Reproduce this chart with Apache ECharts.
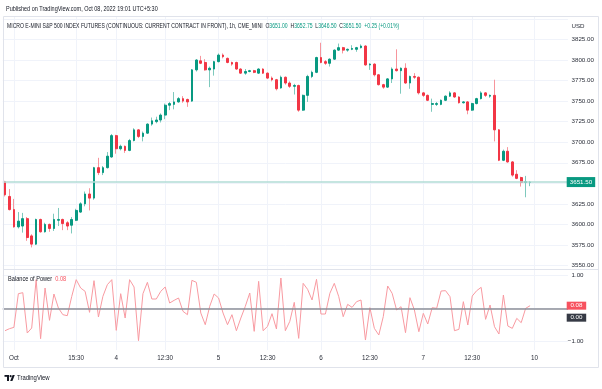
<!DOCTYPE html>
<html><head><meta charset="utf-8">
<script src="https://cdn.jsdelivr.net/npm/echarts@6/dist/echarts.min.js"></script>
<style>html,body{margin:0;padding:0;background:#fff}#c{width:602px;height:389px}</style>
</head><body><div id="c"></div>
<script>
// ---- data (hourly bars, Micro E-mini S&P 500, IST) ----
const opens = [
3652,3634,3618,3597,3598,3607,3586,3576,3606,3591,
3600,3595,3605,3606,3602,3599,3605,3615,3625,3637,
3632,3669,3663,3669,3682,3708,3692,3695,3690,3702,
3715,3707,3711,3722,3725,3727,3733,3745,3746,3749,
3753,3752,3750,3788,3799,3797,3788,3789,3798,3806,
3802,3797,3797,3789,3784,3786,3787,3784,3789,3784,
3778,3776,3766,3779,3772,3768,3769,3739,3757,3780,
3785,3803,3798,3796,3801,3812,3815,3812,3813,3813,
3815,3817,3794,3795,3782,3770,3767,3777,3789,3787,
3790,3772,3780,3779,3760,3757,3746,3746,3746,3751,
3756,3760,3755,3748,3749,3739,3747,3753,3760,3756,
3757,3715,3678,3689,3676,3661,3657,3651,3651];
const highs = [
3653,3643,3631,3615,3614,3609,3588,3607,3607,3602,
3601,3613,3620,3607,3604,3609,3619,3627,3640,3644,
3670,3681,3671,3688,3710,3709,3697,3696,3704,3717,
3716,3713,3723,3730,3731,3735,3747,3749,3761,3755,
3756,3753,3789,3801,3805,3801,3792,3799,3808,3808,
3803,3798,3798,3790,3789,3788,3788,3790,3790,3785,
3780,3777,3781,3780,3774,3771,3770,3758,3782,3787,
3804,3821,3800,3802,3813,3820,3816,3814,3818,3816,
3819,3818,3796,3796,3783,3771,3778,3791,3813,3791,
3796,3781,3784,3780,3761,3758,3753,3749,3752,3757,
3762,3761,3756,3750,3750,3748,3754,3762,3761,3758,
3776,3716,3691,3694,3677,3666,3658,3659,3652.75];
const lows = [
3634,3617,3596,3595,3590,3580,3572,3575,3590,3590,
3591,3592,3598,3593,3593,3589,3604,3614,3622,3617,
3630,3660,3660,3668,3681,3686,3690,3687,3689,3701,
3705,3701,3710,3720,3723,3724,3728,3739,3740,3748,
3748,3743,3749,3786,3795,3787,3767,3781,3797,3802,
3796,3793,3788,3783,3782,3785,3784,3783,3783,3777,
3774,3763,3765,3770,3766,3758,3737,3738,3749,3778,
3784,3796,3794,3792,3800,3811,3808,3810,3812,3810,
3814,3793,3788,3780,3769,3765,3766,3772,3786,3759,
3771,3765,3777,3758,3755,3750,3737,3744,3745,3750,
3755,3754,3747,3747,3734,3738,3746,3752,3755,3754,
3701,3677,3677,3675,3658,3655,3646,3633,3646.5];
const closes = [
3636,3618,3597,3604,3607,3584,3576,3606,3591,3600,
3595,3606,3606,3601,3598,3606,3617,3625,3637,3632,
3669,3663,3669,3683,3708,3692,3695,3690,3702,3715,
3707,3711,3722,3726,3727,3733,3745,3747,3749,3753,
3750,3749,3788,3800,3796,3788,3790,3798,3806,3804,
3797,3795,3789,3784,3786,3787,3785,3789,3784,3778,
3776,3765,3779,3772,3768,3769,3739,3757,3780,3785,
3803,3797,3796,3801,3812,3815,3812,3813,3814,3815,
3817,3794,3795,3782,3770,3767,3777,3789,3787,3790,
3772,3780,3779,3760,3757,3751,3747,3747,3751,3756,
3760,3755,3748,3749,3739,3747,3753,3760,3757,3757,
3715,3678,3689,3676,3660,3656,3651,3652,3651.5];
const bop = [
-0.67,-0.61,-0.57,0.44,0.47,-0.74,-0.59,0.86,-0.91,0.61,
-0.36,0.43,0.01,-0.19,-0.22,0.36,0.86,0.61,0.51,-0.12,
0.83,-0.26,0.36,0.71,0.86,-0.66,0.44,-0.29,0.86,0.64,
-0.97,0.44,0.78,0.28,0.28,0.51,0.64,0.16,0.24,0.31,
-0.09,-0.19,0.84,0.78,-0.14,-0.49,0.06,0.43,0.31,-0.14,
-0.49,-0.19,-0.67,-0.29,0.06,0.46,-0.69,0.81,-0.67,-0.54,
-0.16,-0.62,0.91,-0.67,-0.39,0.18,-0.9,0.75,0.57,0.25,
0.87,-0.17,-0.17,0.45,0.75,0.35,-0.25,0.12,0.03,0.2,
0.25,-0.95,0.02,-0.6,-0.8,-0.25,0.67,0.45,-0.05,0.05,
-0.73,0.32,-0.05,-0.7,-0.15,-0.47,0.02,0,0.52,0.53,
0.35,-0.67,-0.63,0.2,-0.5,0.37,0.53,0.63,-0.33,0.1,
-0.55,-0.77,0.4,-0.53,-0.6,-0.3,-0.43,0,0.08];
// time-axis tick labels keyed by bar slot
const tickLabels = {2:'Oct',16:'15:30',25:'4',36:'12:30',48:'5',59:'12:30',71:'6',82:'12:30',94:'7',105:'12:30',119:'10'};
const futureSlots = 8;
const categories = Array.from({length: opens.length + futureSlots}, (_, i) => String(i));
const titleText = 'MICRO E-MINI S&P 500 INDEX FUTURES (CONTINUOUS: CURRENT CONTRACT IN FRONT), 1h, CME_MINI';
const changeText = '+0.25 (+0.01%)';
const publishedText = 'Published on TradingView.com, Oct 08, 2022 19:01 UTC+5:30';

// ---- style ----
const UP = '#089981', DOWN = '#f23645', WUP = '#7ec9bd', WDOWN = '#f7959c';
const FONT = 'Liberation Sans, Arial, sans-serif';
const TXT = '#2a2e39', DARK = '#131722', GRID = '#f0f3fa';
const bandW = 4.45, gLeft = 2.775, gWidth = bandW * categories.length;

const last = opens.length - 1;
const lastClose = closes[last], lastBop = bop[last];
const fullData = opens.map((o, i) => [o, closes[i], lows[i], highs[i]]);
const bodyData = opens.map((o, i) => [o, closes[i], Math.min(o, closes[i]), Math.max(o, closes[i])]);

const chart = echarts.init(document.getElementById('c'), null, {renderer: 'canvas', width: 602, height: 389});
const hiddenX = (g) => ({type: 'category', gridIndex: g, data: categories, boundaryGap: true, show: false});
chart.setOption({
  animation: false,
  backgroundColor: '#ffffff',
  textStyle: {fontFamily: FONT},
  grid: [
    {left: gLeft, width: gWidth, top: 18.9, height: 246.6},
    {left: gLeft, width: gWidth, top: 275, height: 66.7},
    {left: gLeft, width: gWidth, top: 17, height: 333}
  ],
  xAxis: [
    hiddenX(0), hiddenX(1),
    {type: 'category', gridIndex: 2, data: categories, boundaryGap: true,
     axisLine: {show: false}, axisTick: {show: false},
     axisLabel: {interval: (i) => tickLabels[i] !== undefined, formatter: (v, i) => tickLabels[i] || '',
                 fontSize: 6.3, color: TXT, margin: 5, fontFamily: FONT},
     splitLine: {show: true, interval: (i) => tickLabels[i] !== undefined, alignWithLabel: true,
                 lineStyle: {color: GRID, width: 1}}}
  ],
  yAxis: [
    {type: 'value', gridIndex: 0, position: 'right', min: 3550, max: 3850, interval: 25,
     axisLine: {show: false}, axisTick: {show: false},
     axisLabel: {fontSize: 6.2, color: TXT, margin: 3.6, showMaxLabel: false, formatter: (v) => v.toFixed(2)},
     splitLine: {lineStyle: {color: GRID, width: 1}}},
    {type: 'value', gridIndex: 1, position: 'right', min: -1, max: 1, interval: 1,
     axisLine: {show: false}, axisTick: {show: false},
     axisLabel: {fontSize: 6.2, color: TXT, margin: 15.6, align: 'right',
                 formatter: (v) => v === 0 ? '' : v.toFixed(2).replace('-', '\u2212')},
     splitLine: {lineStyle: {color: GRID, width: 1}}},
    {type: 'value', gridIndex: 2, show: false, min: 0, max: 1}
  ],
  series: [
    {type: 'candlestick', xAxisIndex: 0, yAxisIndex: 0, data: fullData, barWidth: 1,
     itemStyle: {color: WUP, color0: WDOWN, borderColor: WUP, borderColor0: WDOWN, borderWidth: 1}},
    {type: 'candlestick', xAxisIndex: 0, yAxisIndex: 0, data: bodyData, barWidth: 2.2,
     itemStyle: {color: UP, color0: DOWN, borderColor: UP, borderColor0: DOWN, borderWidth: 1},
     markLine: {symbol: 'none', silent: true, label: {show: false},
                lineStyle: {color: '#b2ddd6', width: 1.5, type: 'solid'}, data: [{yAxis: lastClose}]}},
    {type: 'line', xAxisIndex: 1, yAxisIndex: 1, data: bop, showSymbol: false, silent: true,
     lineStyle: {color: '#f89aa1', width: 1},
     markLine: {symbol: 'none', silent: true, label: {show: false},
                lineStyle: {color: '#8c8f98', width: 1.6, type: 'solid'}, data: [{yAxis: 0}]}}
  ]
});

const yPrice = chart.convertToPixel({yAxisIndex: 0}, lastClose);
const yBop = chart.convertToPixel({yAxisIndex: 1}, lastBop);
const yZero = Math.max(chart.convertToPixel({yAxisIndex: 1}, 0), yBop + 12);
const box = (y, w, h, fill, text) => ([
  {type: 'rect', shape: {x: 566.7, y: y - h / 2, width: w, height: h}, style: {fill: fill}, z: 10},
  {type: 'text', x: 566.7 + w / 2, y: y, z: 11,
   style: {text: text, fill: '#ffffff', font: '6.2px ' + FONT, align: 'center', verticalAlign: 'middle'}}
]);
const fmt = (v) => v.toFixed(2);
chart.setOption({
  graphic: [
    {type: 'rect', shape: {x: 3.5, y: 16.5, width: 595, height: 351}, style: {fill: 'none', stroke: '#e0e3eb', lineWidth: 1}, z: 5},
    {type: 'line', shape: {x1: 3.5, y1: 269.5, x2: 598.5, y2: 269.5}, style: {stroke: '#e0e3eb', lineWidth: 1}, z: 5},
    {type: 'text', x: 6, y: 9.5, scaleX: 0.86, style: {text: publishedText, fill: DARK, font: '6.4px ' + FONT, verticalAlign: 'middle'}},
    {type: 'text', x: 7, y: 26, scaleX: 0.77, z: 6,
     style: {text: '{d|' + titleText + '}  {d|O}{v|' + fmt(opens[last]) + '}  {d|H}{v|' + fmt(highs[last]) +
                   '}  {d|L}{v|' + fmt(lows[last]) + '}  {d|C}{v|' + fmt(lastClose) + '}  {v|' + changeText + '}',
             font: '6.6px ' + FONT, verticalAlign: 'middle',
             rich: {d: {fill: DARK, font: '6.6px ' + FONT}, v: {fill: UP, font: '6.6px ' + FONT}}}},
    {type: 'text', x: 571.5, y: 26, style: {text: 'USD', fill: TXT, font: '6.2px ' + FONT, verticalAlign: 'middle'}},
    {type: 'text', x: 8, y: 279, scaleX: 0.88, z: 6,
     style: {text: '{d|Balance of Power}  {r|' + fmt(lastBop) + '}', verticalAlign: 'middle', font: '6.4px ' + FONT,
             rich: {d: {fill: DARK, font: '6.4px ' + FONT}, r: {fill: '#f7525f', font: '6.4px ' + FONT}}}},
    ...box(yPrice, 28.5, 10, UP, fmt(lastClose)),
    ...box(yBop, 19.5, 8, '#f7525f', fmt(lastBop)),
    ...box(yZero, 19.5, 8, '#363a45', '0.00'),
    // TradingView logo
    {type: 'rect', shape: {x: 4.5, y: 375, width: 4.5, height: 1.8}, style: {fill: DARK}},
    {type: 'rect', shape: {x: 7, y: 375, width: 2, height: 6}, style: {fill: DARK}},
    {type: 'circle', shape: {cx: 10.6, cy: 376.2, r: 1.1}, style: {fill: DARK}},
    {type: 'polygon', shape: {points: [[12.6, 375], [14.8, 375], [12.4, 381], [10.2, 381]]}, style: {fill: DARK}},
    {type: 'text', x: 17, y: 378.3, scaleX: 0.9, style: {text: 'TradingView', fill: DARK, font: '6.6px ' + FONT, verticalAlign: 'middle'}}
  ]
});
</script>
</body></html>
